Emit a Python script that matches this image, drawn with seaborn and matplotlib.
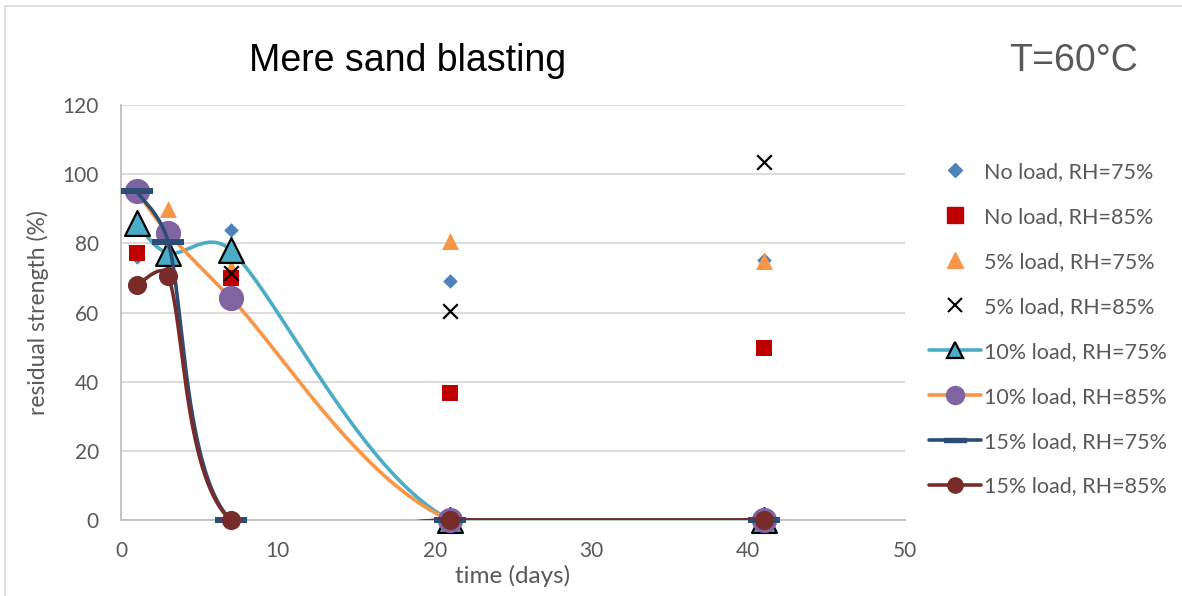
import numpy as np
import pandas as pd
import matplotlib
matplotlib.use("Agg")
import matplotlib.pyplot as plt
from matplotlib.lines import Line2D
from matplotlib.patches import Rectangle
import seaborn as sns

# ---------------- data ----------------
days = [1, 3, 7, 21, 41]
noload_rh75 = [76, 84, 69.2, 75.2]
noload_rh75_x = [1, 7, 21, 41]
noload_rh85 = [77.2, 70, 36.7, 49.8]
noload_rh85_x = [1, 7, 21, 41]
load5_rh75 = [95, 90, 73, 80.7, 74.8]
load5_rh75_x = [1, 3, 7, 21, 41]
load5_rh85 = [95, 71.5, 60.5, 103.5]
load5_rh85_x = [1, 7, 21, 41]
load10_rh75 = [86, 77.2, 78, 0, 0]
load10_rh85 = [95, 83, 64.2, 0, 0]
load15_rh75 = [95, 80.5, 0, 0, 0]
load15_rh85 = [68, 70.6, 0, 0, 0]

title = "Mere sand blasting"
temp_label = "T=60°C"
xlabel = "time (days)"
ylabel = "residual strength (%)"
labels = ["No load, RH=75%", "No load, RH=85%", "5% load, RH=75%", "5% load, RH=85%",
          "10% load, RH=75%", "10% load, RH=85%", "15% load, RH=75%", "15% load, RH=85%"]

C_BLUE = "#4F81BD"
C_RED = "#C00000"
C_ORANGE = "#F79646"
C_CYAN = "#4BACC6"
C_PURPLE = "#8064A2"
C_NAVY = "#2C4D75"
C_MAROON = "#772C2A"
TXT = "#595959"

# approximate screen scale (pixels per data unit) used by the smoothing rule
SX, SY = 15.68, 3.458


def smooth(xs, ys, n=80):
    """Excel-like smoothed line: cubic Bezier through the points with
    Catmull-Rom tangents, limited to half the segment length (screen space)."""
    P = np.column_stack([np.asarray(xs, float) * SX, np.asarray(ys, float) * SY])
    out = []
    m = len(P)
    for i in range(m - 1):
        p0 = P[i - 1] if i > 0 else P[i]
        p1 = P[i]
        p2 = P[i + 1]
        p3 = P[i + 2] if i + 2 < m else P[i + 1]
        d12 = np.linalg.norm(p2 - p1)
        d02 = np.linalg.norm(p2 - p0)
        d13 = np.linalg.norm(p3 - p1)
        f1 = 1 / 6.0
        f2 = 1 / 6.0
        if d02 / 6.0 > d12 / 2.0 and d02 > 0:
            f1 = d12 / (2.0 * d02)
        if d13 / 6.0 > d12 / 2.0 and d13 > 0:
            f2 = d12 / (2.0 * d13)
        c1 = p1 + (p2 - p0) * f1
        c2 = p2 - (p3 - p1) * f2
        t = np.linspace(0, 1, n)[:, None]
        seg = ((1 - t) ** 3) * p1 + 3 * ((1 - t) ** 2) * t * c1 + 3 * (1 - t) * t ** 2 * c2 + t ** 3 * p2
        if i > 0:
            seg = seg[1:]
        out.append(seg)
    out = np.vstack(out)
    return out[:, 0] / SX, out[:, 1] / SY


sns.set_style("white")
plt.rcParams["font.family"] = ["Lato", "DejaVu Sans"]

fig = plt.figure(figsize=(11.82, 5.96), dpi=100)
ax = fig.add_axes([0.1024, 0.1275, 0.6633, 0.6963])

# scatter-only series
sns.scatterplot(x=noload_rh75_x, y=noload_rh75, marker="D", s=55, color=C_BLUE,
                edgecolor=C_BLUE, linewidth=0, ax=ax, zorder=3, clip_on=False)
sns.scatterplot(x=load5_rh75_x, y=load5_rh75, marker="^", s=150, color=C_ORANGE,
                edgecolor=C_ORANGE, linewidth=0, ax=ax, zorder=3, clip_on=False)
sns.scatterplot(x=noload_rh85_x, y=noload_rh85, marker="s", s=120, color=C_RED,
                edgecolor=C_RED, linewidth=0, ax=ax, zorder=3, clip_on=False)
sns.scatterplot(x=load5_rh85_x, y=load5_rh85, marker="x", s=110, color="black",
                linewidth=1.6, ax=ax, zorder=3, clip_on=False)

bar_marker = [(-1, -0.22), (1, -0.22), (1, 0.22), (-1, 0.22), (-1, -0.22)]

line_series = [
    (load10_rh75, C_CYAN, "^", C_CYAN, "black", 320, 1.6),
    (load10_rh85, C_ORANGE, "o", C_PURPLE, C_PURPLE, 330, 0),
    (load15_rh75, C_NAVY, bar_marker, C_NAVY, C_NAVY, 520, 0),
    (load15_rh85, C_MAROON, "o", C_MAROON, C_MAROON, 190, 0),
]
z = 4
for vals, lc, mk, fc, ec, ms, mew in line_series:
    sx, sy = smooth(days, vals)
    sns.lineplot(x=sx, y=sy, sort=False, estimator=None, color=lc, linewidth=2.6,
                 ax=ax, zorder=z)
    sns.scatterplot(x=days, y=vals, marker=mk, s=ms, color=fc, edgecolor=ec,
                    linewidth=mew, ax=ax, zorder=z + 0.5, clip_on=False)
    z += 1

ax.set_xlim(0, 50)
ax.set_ylim(0, 120)
ax.set_xticks(range(0, 51, 10))
ax.set_yticks(range(0, 121, 20))
ax.grid(axis="y", color="#D9D9D9", linewidth=1.3)
ax.set_axisbelow(True)
for side in ["top", "right"]:
    ax.spines[side].set_visible(False)
for side in ["left", "bottom"]:
    ax.spines[side].set_color("#BFBFBF")
    ax.spines[side].set_linewidth(1.3)
ax.tick_params(axis="x", length=0, labelsize=15, labelcolor=TXT, pad=15)
ax.tick_params(axis="y", length=0, labelsize=15, labelcolor=TXT, pad=16)
ax.set_xlabel(xlabel, fontsize=17.5, color=TXT, labelpad=3)
ax.set_ylabel(ylabel, fontsize=16.5, color=TXT, labelpad=10)

fig.text(0.345, 0.897, title, fontsize=27, family="Liberation Sans", color="black",
         ha="center", va="center")
fig.text(0.908, 0.897, temp_label, fontsize=27, family="Liberation Sans", color=TXT,
         ha="center", va="center")

handles = [
    Line2D([], [], linestyle="none", marker="D", markersize=7, color=C_BLUE),
    Line2D([], [], linestyle="none", marker="s", markersize=11, color=C_RED),
    Line2D([], [], linestyle="none", marker="^", markersize=12, color=C_ORANGE),
    Line2D([], [], linestyle="none", marker="x", markersize=10, color="black", markeredgewidth=1.5),
    Line2D([], [], color=C_CYAN, linewidth=2.6, marker="^", markersize=11,
           markerfacecolor=C_CYAN, markeredgecolor="black", markeredgewidth=1.6),
    Line2D([], [], color=C_ORANGE, linewidth=2.6, marker="o", markersize=13,
           markerfacecolor=C_PURPLE, markeredgecolor=C_PURPLE),
    Line2D([], [], color=C_NAVY, linewidth=2.6, marker=bar_marker, markersize=16,
           markerfacecolor=C_NAVY, markeredgecolor=C_NAVY),
    Line2D([], [], color=C_MAROON, linewidth=2.6, marker="o", markersize=11,
           markerfacecolor=C_MAROON, markeredgecolor=C_MAROON),
]
leg = fig.legend(handles, labels, loc="upper left", bbox_to_anchor=(0.779, 0.743),
                 frameon=False, fontsize=15.5, labelcolor=TXT, handlelength=2.4,
                 handletextpad=0.15, labelspacing=1.16, borderaxespad=0)

fig.add_artist(Rectangle((0.004, -0.01), 1.2, 1.0, transform=fig.transFigure,
                         fill=False, edgecolor="#D9D9D9", linewidth=1.2))

fig.savefig("out.png", dpi=100)
